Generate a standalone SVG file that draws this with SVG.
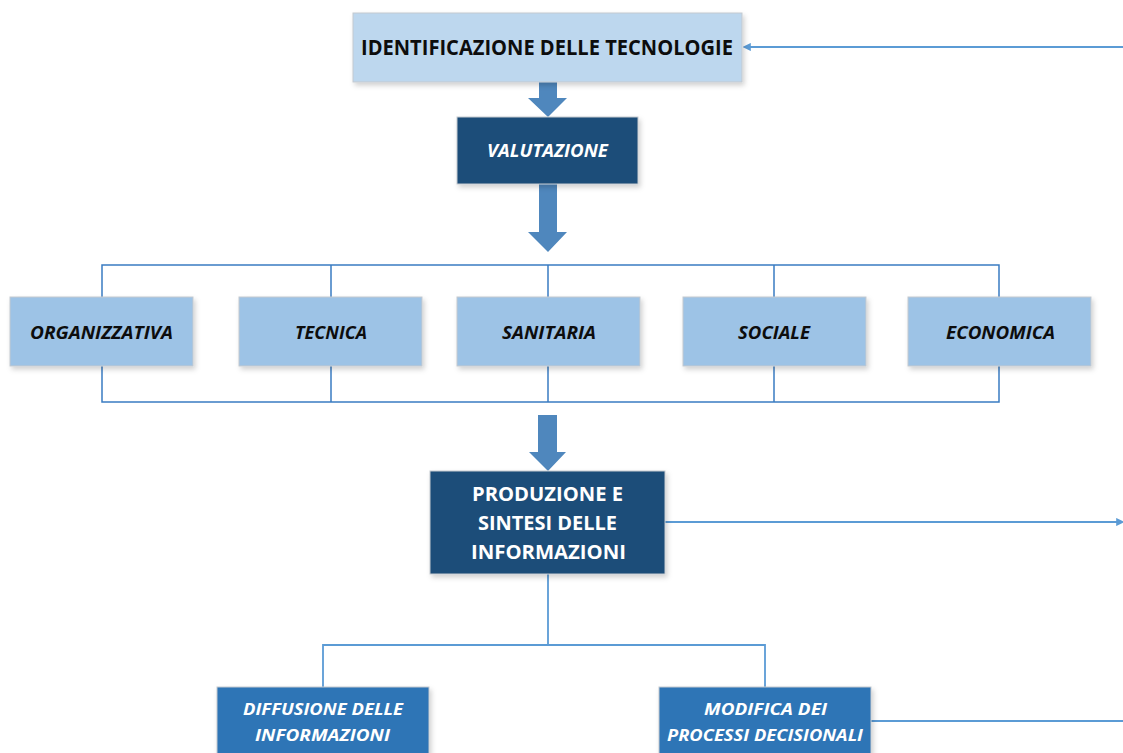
<svg xmlns="http://www.w3.org/2000/svg" width="1123" height="753" viewBox="0 0 1123 753">
  <style>
    .box { stroke: #c4c9cf; stroke-width: 1; filter: url(#shadow); }
    .light { fill: #bdd7ee; }
    .mid { fill: #9dc3e6; }
    .dark { fill: #1f4e79; }
    .blue { fill: #2e75b6; }
    .lbl { font-family: "Open Sans", "Liberation Sans", sans-serif; font-weight: bold; text-anchor: middle; }
    .ink { fill: #0d0d0d; }
    .white { fill: #ffffff; }
    .it { font-style: italic; }
    .wire { fill: none; stroke: #3a7cc2; stroke-width: 1.5; }
    .feed { fill: none; stroke: #5b9bd5; stroke-width: 1.8; }
    .block { fill: #4f87bd; }
  </style>
  <defs>
    <filter id="shadow" x="-10%" y="-10%" width="125%" height="130%">
      <feDropShadow dx="2" dy="3" stdDeviation="2.5" flood-color="#000" flood-opacity="0.18"/>
    </filter>
    <marker id="tipLeft" viewBox="0 0 10 10" refX="1" refY="5" markerWidth="4.5" markerHeight="4.5" orient="auto-start-reverse">
      <path d="M0,0 L10,5 L0,10 z" fill="#5b9bd5"/>
    </marker>
  </defs>

  <!-- connectors -->
  <g id="connectors">
    <!-- feedback into the top box -->
    <line class="feed" x1="1123" y1="47" x2="750" y2="47" marker-end="url(#tipLeft)"/>
    <!-- block arrows -->
    <path class="block" d="M539,82 H557 V98 H567 L548,117 L528,98 H539 Z"/>
    <path class="block" d="M539,184 H557 V232 H567 L548,252 L528,232 H539 Z"/>
    <path class="block" d="M538,415 H557 V452 H566 L548,471 L529,452 H538 Z"/>
    <!-- bracket round the five dimensions -->
    <path class="wire" d="M102,297 V265 H999 V297 M331,265 V297 M548,265 V297 M774,265 V297"/>
    <path class="wire" d="M102,366 V402 H999 V366 M331,402 V366 M548,402 V366 M774,402 V366"/>
    <!-- outgoing line from the synthesis box -->
    <line class="feed" x1="665" y1="522" x2="1117" y2="522" marker-end="url(#tipLeft)"/>
    <!-- split to the two outcomes -->
    <path class="feed" d="M548,574 V645 M323,687 V645 H765 V687"/>
    <line class="feed" x1="871" y1="721" x2="1123" y2="721"/>
  </g>

  <g id="identificazione">
    <rect class="box light" x="353" y="13" width="389" height="69"/>
    <text class="lbl ink" x="547" y="55" font-size="22" textLength="372" lengthAdjust="spacingAndGlyphs">IDENTIFICAZIONE DELLE TECNOLOGIE</text>
  </g>

  <g id="valutazione">
    <rect class="box dark" x="457" y="117" width="181" height="67"/>
    <text class="lbl white it" x="547.5" y="157" font-size="18" textLength="121" lengthAdjust="spacingAndGlyphs">VALUTAZIONE</text>
  </g>

  <g id="organizzativa">
    <rect class="box mid" x="10" y="297" width="183" height="69"/>
    <text class="lbl ink it" x="101.5" y="339" font-size="18" textLength="143" lengthAdjust="spacingAndGlyphs">ORGANIZZATIVA</text>
  </g>
  <g id="tecnica">
    <rect class="box mid" x="239" y="297" width="183" height="69"/>
    <text class="lbl ink it" x="331" y="339" font-size="18" textLength="72" lengthAdjust="spacingAndGlyphs">TECNICA</text>
  </g>
  <g id="sanitaria">
    <rect class="box mid" x="457" y="297" width="183" height="69"/>
    <text class="lbl ink it" x="549" y="339" font-size="18" textLength="94" lengthAdjust="spacingAndGlyphs">SANITARIA</text>
  </g>
  <g id="sociale">
    <rect class="box mid" x="683" y="297" width="183" height="69"/>
    <text class="lbl ink it" x="774" y="339" font-size="18" textLength="72" lengthAdjust="spacingAndGlyphs">SOCIALE</text>
  </g>
  <g id="economica">
    <rect class="box mid" x="908" y="297" width="183" height="69"/>
    <text class="lbl ink it" x="1000.5" y="339" font-size="18" textLength="109" lengthAdjust="spacingAndGlyphs">ECONOMICA</text>
  </g>

  <g id="produzione">
    <rect class="box dark" x="430" y="471" width="235" height="103"/>
    <text class="lbl white" x="547.5" y="501" font-size="20" textLength="151" lengthAdjust="spacingAndGlyphs">PRODUZIONE E</text>
    <text class="lbl white" x="547.5" y="530" font-size="20" textLength="139" lengthAdjust="spacingAndGlyphs">SINTESI DELLE</text>
    <text class="lbl white" x="548.5" y="559" font-size="20" textLength="155" lengthAdjust="spacingAndGlyphs">INFORMAZIONI</text>
  </g>

  <g id="diffusione">
    <rect class="box blue" x="217" y="687" width="212" height="80"/>
    <text class="lbl white it" x="323" y="715" font-size="16.5" textLength="160" lengthAdjust="spacingAndGlyphs">DIFFUSIONE DELLE</text>
    <text class="lbl white it" x="322.5" y="741" font-size="16.5" textLength="135" lengthAdjust="spacingAndGlyphs">INFORMAZIONI</text>
  </g>

  <g id="modifica">
    <rect class="box blue" x="659" y="687" width="212" height="80"/>
    <text class="lbl white it" x="765.5" y="715" font-size="16.5" textLength="123" lengthAdjust="spacingAndGlyphs">MODIFICA DEI</text>
    <text class="lbl white it" x="765" y="741" font-size="16.5" textLength="196" lengthAdjust="spacingAndGlyphs">PROCESSI DECISIONALI</text>
  </g>
</svg>
